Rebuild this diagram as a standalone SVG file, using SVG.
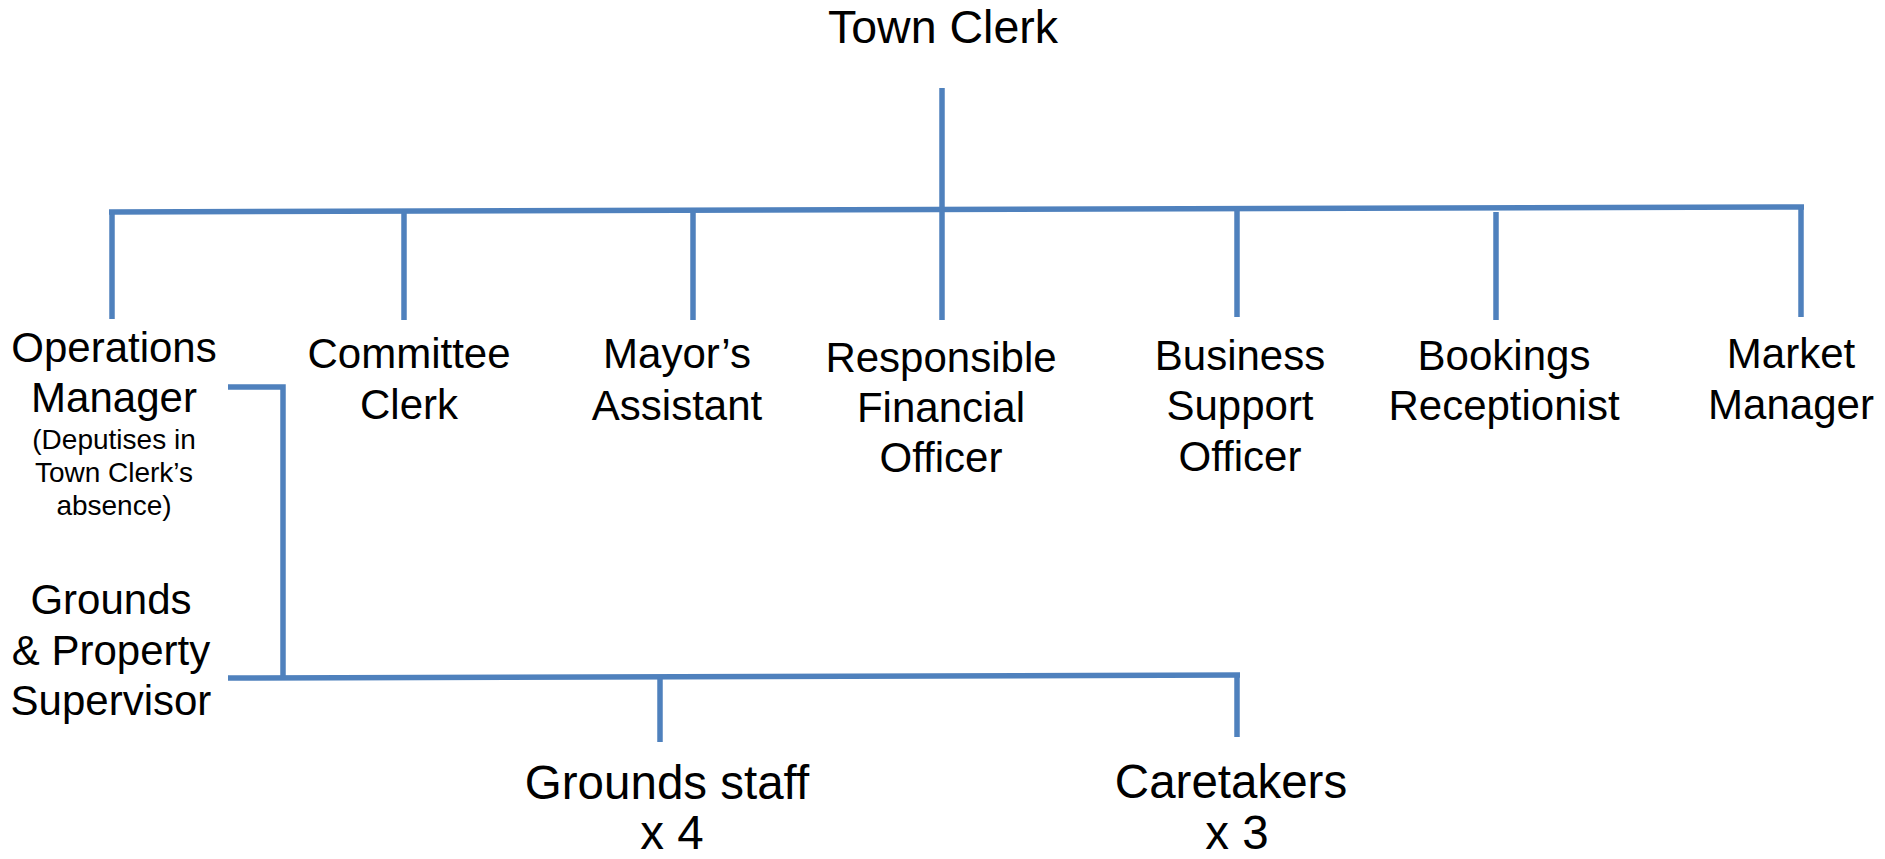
<svg xmlns="http://www.w3.org/2000/svg" width="1885" height="859" viewBox="0 0 1885 859">
<style>
text{font-family:"Liberation Sans",Arial,sans-serif;fill:#000;text-anchor:middle}
.t{font-size:42px}
.b{font-size:47.5px}
.h{font-size:46.5px}
.s{font-size:28px}
.c{stroke:#4F81BD;stroke-width:5.5;fill:none;stroke-linecap:butt}
</style>
<rect width="1885" height="859" fill="#fff"/>
<g id="connectors" class="c">
<line x1="942" y1="88" x2="942" y2="210"/>
<line x1="109" y1="212" x2="1804" y2="207"/>
<line x1="112" y1="212" x2="112" y2="319"/>
<line x1="404" y1="212" x2="404" y2="320"/>
<line x1="693" y1="211" x2="693" y2="320"/>
<line x1="942" y1="210" x2="942" y2="320"/>
<line x1="1237" y1="209" x2="1237" y2="317"/>
<line x1="1496" y1="212" x2="1496" y2="320"/>
<line x1="1801" y1="207" x2="1801" y2="317"/>
<polyline points="228,387 283,387 283,677"/>
<line x1="228" y1="678" x2="1240" y2="675"/>
<line x1="660" y1="677" x2="660" y2="742"/>
<line x1="1237" y1="675" x2="1237" y2="737"/>
</g>
<g id="town-clerk"><text class="h" x="943" y="43">Town Clerk</text></g>
<g id="operations-manager">
<text class="t" x="114" y="362">Operations</text>
<text class="t" x="114" y="412">Manager</text>
<text class="s" x="114" y="449">(Deputises in</text>
<text class="s" x="114" y="482">Town Clerk’s</text>
<text class="s" x="114" y="515">absence)</text>
</g>
<g id="committee-clerk">
<text class="t" x="409" y="368">Committee</text>
<text class="t" x="409" y="419">Clerk</text>
</g>
<g id="mayors-assistant">
<text class="t" x="677" y="368">Mayor’s</text>
<text class="t" x="677" y="420">Assistant</text>
</g>
<g id="rfo">
<text class="t" x="941" y="372">Responsible</text>
<text class="t" x="941" y="422">Financial</text>
<text class="t" x="941" y="472">Officer</text>
</g>
<g id="business-support">
<text class="t" x="1240" y="370">Business</text>
<text class="t" x="1240" y="420">Support</text>
<text class="t" x="1240" y="471">Officer</text>
</g>
<g id="bookings">
<text class="t" x="1504" y="370">Bookings</text>
<text class="t" x="1504" y="420">Receptionist</text>
</g>
<g id="market-manager">
<text class="t" x="1791" y="368">Market</text>
<text class="t" x="1791" y="419">Manager</text>
</g>
<g id="grounds-supervisor">
<text class="t" x="111" y="614">Grounds</text>
<text class="t" x="111" y="665">&amp; Property</text>
<text class="t" x="111" y="715">Supervisor</text>
</g>
<g id="grounds-staff">
<text class="b" x="667" y="799">Grounds staff</text>
<text class="b" x="672" y="849">x 4</text>
</g>
<g id="caretakers">
<text class="b" x="1231" y="798">Caretakers</text>
<text class="b" x="1237" y="849">x 3</text>
</g>
</svg>
